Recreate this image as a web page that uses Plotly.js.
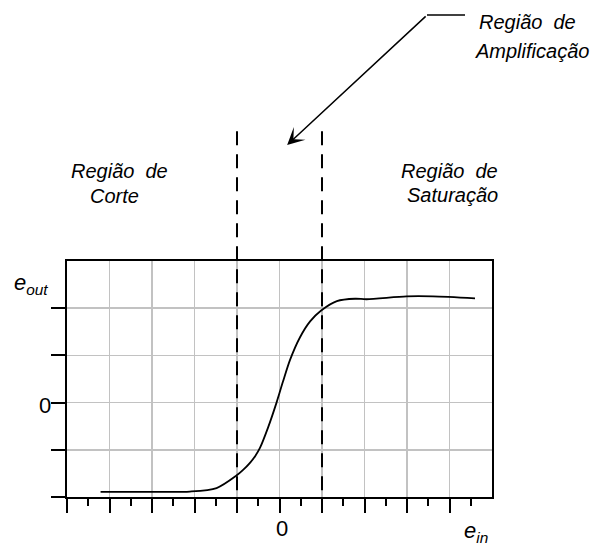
<!DOCTYPE html>
<html>
<head>
<meta charset="utf-8">
<script src="https://cdn.plot.ly/plotly-3.0.1.min.js"></script>
<style>
  html, body { margin: 0; padding: 0; background: #fff; }
  #chart { width: 598px; height: 547px; }
</style>
</head>
<body>
<div id="chart"></div>
<script>
// ---- data (axis units: one grid cell = 1) ----
const ein  = [-4.21, -3.05, -2.11, -1.48, -1.02, -0.85, -0.69, -0.57, -0.46, -0.27, -0.07, 0.08, 0.25, 0.48, 0.72, 0.98, 1.35, 1.78, 2.05, 2.99, 3.61, 4.60];
const eout = [-1.89, -1.89, -1.885, -1.81, -1.55, -1.42, -1.27, -1.13, -0.96, -0.53, 0.00, 0.44, 0.91, 1.38, 1.72, 1.95, 2.15, 2.20, 2.19, 2.25, 2.25, 2.21];
const regionBounds = [-1, 1];
const xMajor = [-5, -4, -3, -2, -1, 0, 1, 2, 3, 4];
const xMinor = [-4.5, -3.5, -2.5, -1.5, -0.5, 0.5, 1.5, 2.5, 3.5, 4.5];
const yMajor = [-2, -1, 0, 1, 2];
const xZeroLabel = '0';
const yZeroLabel = '0';
const labelCut = ['Região\u00a0\u00a0de', 'Corte'];
const labelSat = ['Região\u00a0\u00a0de', 'Saturação'];
const labelAmp = ['Região\u00a0\u00a0de', 'Amplificação'];

const FONT = 'Liberation Sans, Arial, Helvetica, sans-serif';
const txt = {family: FONT, size: 20, color: '#000', style: 'italic'};
const big = {family: FONT, size: 22, color: '#000'};

const trace = {
  x: ein, y: eout, type: 'scatter', mode: 'lines',
  line: {color: '#000', width: 1.8, shape: 'spline', smoothing: 0.8},
  hoverinfo: 'skip'
};

const shapes = regionBounds.map(b => ({
  type: 'line', xref: 'x', yref: 'paper', x0: b, x1: b, y0: 1.55, y1: 0,
  line: {color: '#000', width: 2, dash: '14px,9px'}
}));
shapes.push({type: 'line', xref: 'paper', yref: 'paper', x0: 0.847, x1: 0.9365, y0: 2.042, y1: 2.042,
  line: {color: '#000', width: 1.5}});

function lab(t, x, y) {
  return {text: t, xref: 'paper', yref: 'paper', x: x, y: y, xanchor: 'center', yanchor: 'middle',
    showarrow: false, font: txt};
}

const annotations = [
  lab(labelCut[0], 0.1224, 1.381),
  lab(labelCut[1], 0.1106, 1.2754),
  lab(labelSat[0], 0.899, 1.381),
  lab(labelSat[1], 0.906, 1.2797),
  lab(labelAmp[0], 1.0824, 2.0127),
  lab(labelAmp[1], 1.094, 1.89),
  {text: '', xref: 'x', yref: 'paper', x: 0.18, y: 1.4915, ax: 140, ay: -130,
   showarrow: true, arrowhead: 3, arrowsize: 1.9, arrowwidth: 1.5, arrowcolor: '#000', standoff: 0},
  {text: xZeroLabel, xref: 'x', yref: 'paper', x: 0.05, y: -0.07, xanchor: 'center', yanchor: 'top',
   showarrow: false, font: big},
  {text: yZeroLabel, xref: 'paper', yref: 'y', x: -0.033, y: -0.06, xanchor: 'right', yanchor: 'middle',
   showarrow: false, font: big},
  {text: '<i>e</i><sub><i>out</i></sub>', xref: 'paper', yref: 'paper', x: -0.1294, y: 0.9025,
   xanchor: 'left', yanchor: 'middle', showarrow: false, font: big},
  {text: '<i>e</i><sub><i>in</i></sub>', xref: 'paper', yref: 'paper', x: 0.929, y: -0.15,
   xanchor: 'left', yanchor: 'middle', showarrow: false, font: big}
];

const axisCommon = {
  ticks: 'outside', ticklen: 14, tickwidth: 2, tickcolor: '#000', showticklabels: false,
  showline: true, linewidth: 2, linecolor: '#000', mirror: true,
  showgrid: true, gridcolor: '#c2c2c2', gridwidth: 1.5, zeroline: false, fixedrange: true
};

const layout = {
  width: 598, height: 547,
  margin: {l: 67, r: 106, t: 261, b: 50, pad: 0},
  paper_bgcolor: '#fff', plot_bgcolor: '#fff',
  showlegend: false,
  xaxis: Object.assign({}, axisCommon, {
    range: [-5, 5], tickmode: 'array', tickvals: xMajor,
    minor: {tickmode: 'array', tickvals: xMinor, ticks: 'outside', ticklen: 7, tickwidth: 2, tickcolor: '#000', showgrid: false}
  }),
  yaxis: Object.assign({}, axisCommon, {
    range: [-2, 3], tickmode: 'array', tickvals: yMajor
  }),
  shapes: shapes,
  annotations: annotations
};

Plotly.newPlot('chart', [trace], layout, {displayModeBar: false, staticPlot: true});
</script>
</body>
</html>
